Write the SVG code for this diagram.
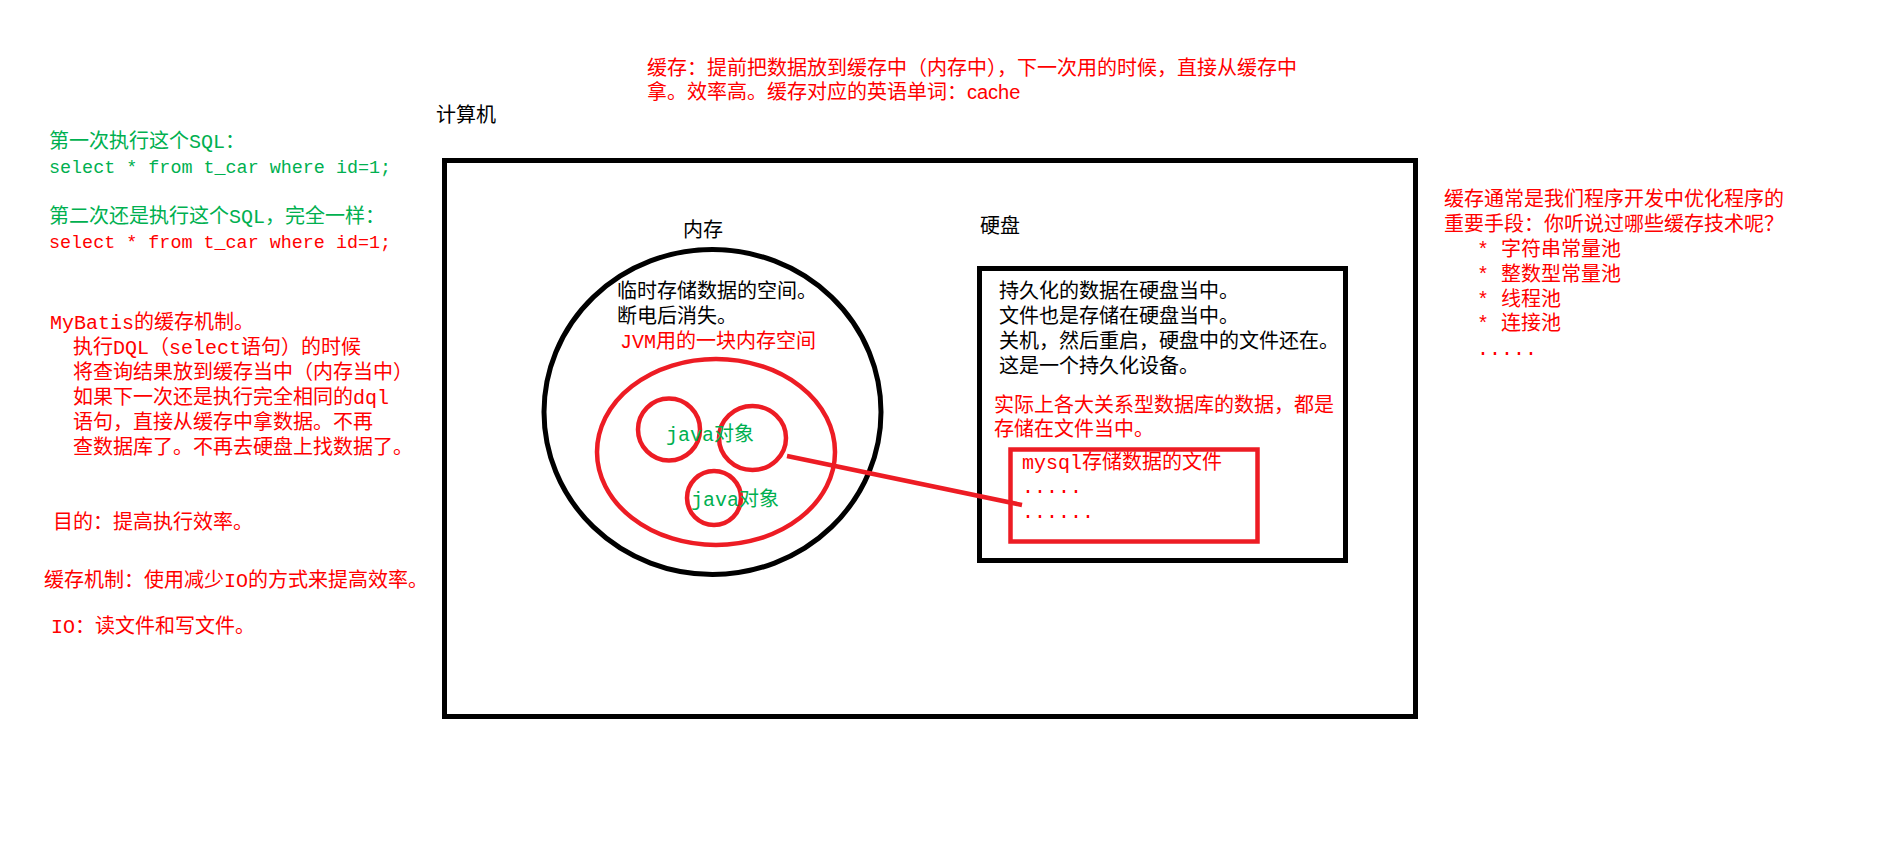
<svg xmlns="http://www.w3.org/2000/svg" width="1893" height="846" viewBox="0 0 1893 846">
<style>
.t{font-family:"Liberation Mono","Noto Sans CJK SC",monospace;font-size:20px}
.q{font-size:18.4px}
.s{font-family:"Liberation Sans","Noto Sans CJK SC",sans-serif;font-size:20px}
.g{fill:#00B050}
.r{fill:#FF0000}
.k{fill:#000000}
.bk{fill:none;stroke:#000000;stroke-width:5}
.rd{fill:none;stroke:#ED1C24;stroke-width:4.5}
</style>
<rect width="1893" height="846" fill="#FFFFFF"/>
<g id="note-top">
<text class="s r" x="647" y="75">缓存：提前把数据放到缓存中（内存中），下一次用的时候，直接从缓存中</text>
<text class="s r" x="647" y="99">拿。效率高。缓存对应的英语单词：cache</text>
</g>
<g id="note-sql">
<text class="t g" x="49" y="148">第一次执行这个SQL：</text>
<text class="t q g" x="49" y="173">select * from t_car where id=1;</text>
<text class="t g" x="49" y="223">第二次还是执行这个SQL，完全一样：</text>
<text class="t q r" x="49" y="248">select * from t_car where id=1;</text>
</g>
<g id="note-mybatis">
<text class="t r" x="50" y="329">MyBatis的缓存机制。</text>
<text class="t r" x="73" y="354">执行DQL（select语句）的时候</text>
<text class="t r" x="73" y="379">将查询结果放到缓存当中（内存当中）</text>
<text class="t r" x="73" y="404">如果下一次还是执行完全相同的dql</text>
<text class="t r" x="73" y="429">语句，直接从缓存中拿数据。不再</text>
<text class="t r" x="73" y="454">查数据库了。不再去硬盘上找数据了。</text>
<text class="t r" x="53" y="529">目的：提高执行效率。</text>
<text class="t r" x="44" y="587">缓存机制：使用减少IO的方式来提高效率。</text>
<text class="t r" x="51" y="633">IO：读文件和写文件。</text>
</g>
<g id="note-right">
<text class="t r" x="1444" y="206">缓存通常是我们程序开发中优化程序的</text>
<text class="t r" x="1444" y="231">重要手段：你听说过哪些缓存技术呢？</text>
<text class="t r" x="1477" y="256">* 字符串常量池</text>
<text class="t r" x="1477" y="281">* 整数型常量池</text>
<text class="t r" x="1477" y="306">* 线程池</text>
<text class="t r" x="1477" y="330">* 连接池</text>
<text class="t r" x="1477" y="355">.....</text>
</g>
<g id="computer">
<text class="s k" x="436" y="122">计算机</text>
<rect class="bk" x="444.5" y="160.5" width="971" height="556"/>
</g>
<g id="memory">
<text class="s k" x="683" y="237">内存</text>
<ellipse class="bk" cx="712.5" cy="412" rx="168.5" ry="162.5" stroke-width="4.5"/>
<text class="t k" x="617" y="298">临时存储数据的空间。</text>
<text class="t k" x="617" y="323">断电后消失。</text>
<text class="t r" x="620" y="348">JVM用的一块内存空间</text>
</g>
<g id="jvm">
<ellipse class="rd" cx="716" cy="452" rx="119" ry="93"/>
</g>
<g id="java-object-1">
<circle class="rd" cx="669" cy="429.5" r="31"/>
</g>
<g id="java-object-2">
<ellipse class="rd" cx="752.5" cy="438" rx="33.5" ry="32"/>
<text class="t g" x="666" y="441">java对象</text>
</g>
<g id="java-object-3">
<circle class="rd" cx="714" cy="498" r="27"/>
<text class="t g" x="691" y="506">java对象</text>
</g>
<g id="disk">
<text class="s k" x="980" y="233">硬盘</text>
<rect class="bk" x="979.5" y="268.5" width="366" height="292"/>
<text class="t k" x="999" y="298">持久化的数据在硬盘当中。</text>
<text class="t k" x="999" y="323">文件也是存储在硬盘当中。</text>
<text class="t k" x="999" y="348">关机，然后重启，硬盘中的文件还在。</text>
<text class="t k" x="999" y="373">这是一个持久化设备。</text>
<text class="t r" x="994" y="412">实际上各大关系型数据库的数据，都是</text>
<text class="t r" x="994" y="436">存储在文件当中。</text>
</g>
<g id="mysql-file">
<rect class="rd" x="1010.5" y="449.5" width="247" height="92" stroke-width="5"/>
<text class="t r" x="1022" y="469">mysql存储数据的文件</text>
<text class="t r" x="1022" y="493">.....</text>
<text class="t r" x="1022" y="518">......</text>
</g>
<g id="connectors">
<line x1="787" y1="456" x2="1022" y2="505" stroke="#ED1C24" stroke-width="4.5"/>
</g>
</svg>
